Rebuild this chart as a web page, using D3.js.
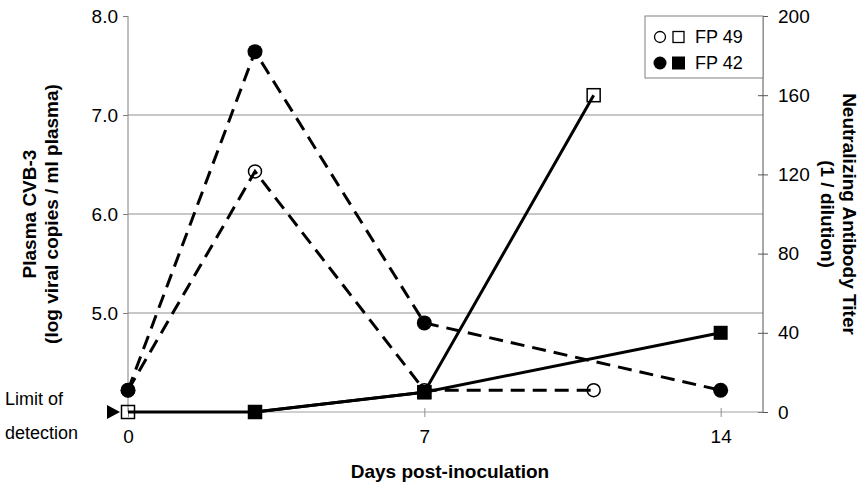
<!DOCTYPE html>
<html>
<head>
<meta charset="utf-8">
<script src="https://cdn.jsdelivr.net/npm/d3@7"></script>
<style>
  body { margin: 0; background: #fff; }
  text { font-family: "Liberation Sans", Arial, sans-serif; fill: #000; }
</style>
</head>
<body>
<div id="chart"></div>
<script>
// data
const xTicks = [0, 7, 14]
const leftTicks = [5.0, 6.0, 7.0, 8.0]
const rightTicks = [0, 40, 80, 120, 160, 200]

// plasma virus (left axis, dashed)
const fp49VirusDays = [0, 3, 7, 11]
const fp49Virus = [4.22, 6.43, 4.22, 4.22]
const fp42VirusDays = [0, 3, 7, 14]
const fp42Virus = [4.22, 7.64, 4.9, 4.22]

// neutralizing antibody titer (right axis, solid)
const fp49AbDays = [0, 3, 7, 11]
const fp49Ab = [0, 0, 10, 160]
const fp42AbDays = [3, 7, 14]
const fp42Ab = [0, 10, 40]

const width = 862,
    height = 490;
const plot = { left: 128, right: 763, top: 16, bottom: 412 }

const svg = d3.select("#chart")
    .append("svg")
    .attr("width", width)
    .attr("height", height)

const x = d3.scaleLinear().domain([0, 15]).range([plot.left, plot.right])
const yLeft = d3.scaleLinear().domain([4, 8]).range([plot.bottom, plot.top])
const yRight = d3.scaleLinear().domain([0, 200]).range([plot.bottom, plot.top])

const zip = (days, vals) => days.map((d, i) => ({ day: d, value: vals[i] }))

// gridlines (left axis)
svg.append("g")
    .selectAll("line")
    .data(leftTicks.filter(d => d < 8))
    .join("line")
    .attr("x1", plot.left).attr("x2", plot.right)
    .attr("y1", d => yLeft(d)).attr("y2", d => yLeft(d))
    .attr("stroke", "#909090")
    .attr("stroke-width", 1)

// axes
const leftAxis = svg.append("g")
    .attr("transform", `translate(${plot.left},0)`)
    .call(d3.axisLeft(yLeft).tickValues(leftTicks).tickFormat(d3.format(".1f")).tickSize(5).tickPadding(5))
const rightAxis = svg.append("g")
    .attr("transform", `translate(${plot.right},0)`)
    .call(d3.axisRight(yRight).tickValues(rightTicks).tickSize(5).tickPadding(10))
const bottomAxis = svg.append("g")
    .attr("transform", `translate(0,${plot.bottom})`)
    .call(d3.axisBottom(x).tickValues(xTicks).tickSize(5).tickPadding(13))

leftAxis.select(".domain").attr("d", `M0,${plot.top}V${plot.bottom}`).attr("stroke", "#808080")
rightAxis.select(".domain").attr("d", `M0,${plot.top}V${plot.bottom}`).attr("stroke", "#555")
bottomAxis.select(".domain").attr("d", `M${plot.left},0H${plot.right}`).attr("stroke", "#a0a0a0")
leftAxis.selectAll(".tick line").attr("stroke", "#808080")
rightAxis.selectAll(".tick line").attr("x1", -5).attr("stroke", "#555")
bottomAxis.selectAll(".tick line").attr("y1", -4).attr("stroke", "#909090")
svg.selectAll(".tick text").style("font-size", "19px").style("font-family", "'Liberation Sans', Arial, sans-serif")

// axis titles
const titleStyle = sel => sel.attr("text-anchor", "middle")
    .style("font-size", "19px").style("font-weight", "bold")
svg.append("text")
    .attr("transform", `translate(36,214) rotate(-90)`)
    .call(titleStyle)
    .text("Plasma CVB-3")
svg.append("text")
    .attr("transform", `translate(58,214) rotate(-90)`)
    .call(titleStyle)
    .text("(log viral copies / ml plasma)")
svg.append("text")
    .attr("transform", `translate(843,214) rotate(90)`)
    .call(titleStyle)
    .text("Neutralizing Antibody Titer")
svg.append("text")
    .attr("transform", `translate(821,214) rotate(90)`)
    .call(titleStyle)
    .text("(1 / dilution)")
svg.append("text")
    .attr("x", 450).attr("y", 478)
    .call(titleStyle)
    .text("Days post-inoculation")

// limit of detection note
svg.append("text").attr("x", 5).attr("y", 405).style("font-size", "18px").text("Limit of")
svg.append("text").attr("x", 5).attr("y", 439).style("font-size", "18px").text("detection")
svg.append("path")
    .attr("d", `M107,${plot.bottom - 7}L120,${plot.bottom}L107,${plot.bottom + 7}Z`)
    .attr("fill", "#000")

// lines
const virusLine = d3.line().x(d => x(d.day)).y(d => yLeft(d.value))
const abLine = d3.line().x(d => x(d.day)).y(d => yRight(d.value))

const virusSeries = [zip(fp49VirusDays, fp49Virus), zip(fp42VirusDays, fp42Virus)]
const abSeries = [zip(fp49AbDays, fp49Ab), zip(fp42AbDays, fp42Ab)]

svg.selectAll(".virus")
    .data(virusSeries)
    .join("path")
    .attr("class", "virus")
    .attr("d", virusLine)
    .attr("fill", "none")
    .attr("stroke", "#000")
    .attr("stroke-width", 3)
    .attr("stroke-dasharray", "14,8")

svg.selectAll(".ab")
    .data(abSeries)
    .join("path")
    .attr("class", "ab")
    .attr("d", abLine)
    .attr("fill", "none")
    .attr("stroke", "#000")
    .attr("stroke-width", 3)

// markers
svg.append("g").selectAll("circle")
    .data(virusSeries[0])
    .join("circle")
    .attr("cx", d => x(d.day)).attr("cy", d => yLeft(d.value))
    .attr("r", 6.5)
    .attr("fill", "none").attr("stroke", "#000").attr("stroke-width", 1.5)
svg.append("g").selectAll("circle")
    .data(virusSeries[1])
    .join("circle")
    .attr("cx", d => x(d.day)).attr("cy", d => yLeft(d.value))
    .attr("r", 7.5)
    .attr("fill", "#000")
svg.append("g").selectAll("rect")
    .data(abSeries[0])
    .join("rect")
    .attr("x", d => x(d.day) - 6.5).attr("y", d => yRight(d.value) - 6.5)
    .attr("width", 13).attr("height", 13)
    .attr("fill", "none").attr("stroke", "#000").attr("stroke-width", 1.5)
svg.append("g").selectAll("rect")
    .data(abSeries[1])
    .join("rect")
    .attr("x", d => x(d.day) - 7).attr("y", d => yRight(d.value) - 7)
    .attr("width", 14).attr("height", 14)
    .attr("fill", "#000")

// legend
const legend = svg.append("g")
legend.append("rect")
    .attr("x", 645).attr("y", plot.top)
    .attr("width", plot.right - 645).attr("height", 62)
    .attr("fill", "#fff").attr("stroke", "#808080")
const legendRows = [
    { name: "FP 49", filled: false, y: 37 },
    { name: "FP 42", filled: true, y: 63 }
]
legend.selectAll(".lc")
    .data(legendRows)
    .join("circle")
    .attr("cx", 660).attr("cy", d => d.y)
    .attr("r", d => d.filled ? 6.5 : 5.5)
    .attr("fill", d => d.filled ? "#000" : "none")
    .attr("stroke", "#000").attr("stroke-width", d => d.filled ? 0 : 1.3)
legend.selectAll(".ls")
    .data(legendRows)
    .join("rect")
    .attr("x", d => d.filled ? 672 : 673).attr("y", d => d.y - (d.filled ? 6.5 : 5.5))
    .attr("width", d => d.filled ? 13 : 11).attr("height", d => d.filled ? 13 : 11)
    .attr("fill", d => d.filled ? "#000" : "none")
    .attr("stroke", "#000").attr("stroke-width", d => d.filled ? 0 : 1.3)
legend.selectAll("text")
    .data(legendRows)
    .join("text")
    .attr("x", 695).attr("y", d => d.y + 6)
    .style("font-size", "18px")
    .text(d => d.name)
</script>
</body>
</html>
